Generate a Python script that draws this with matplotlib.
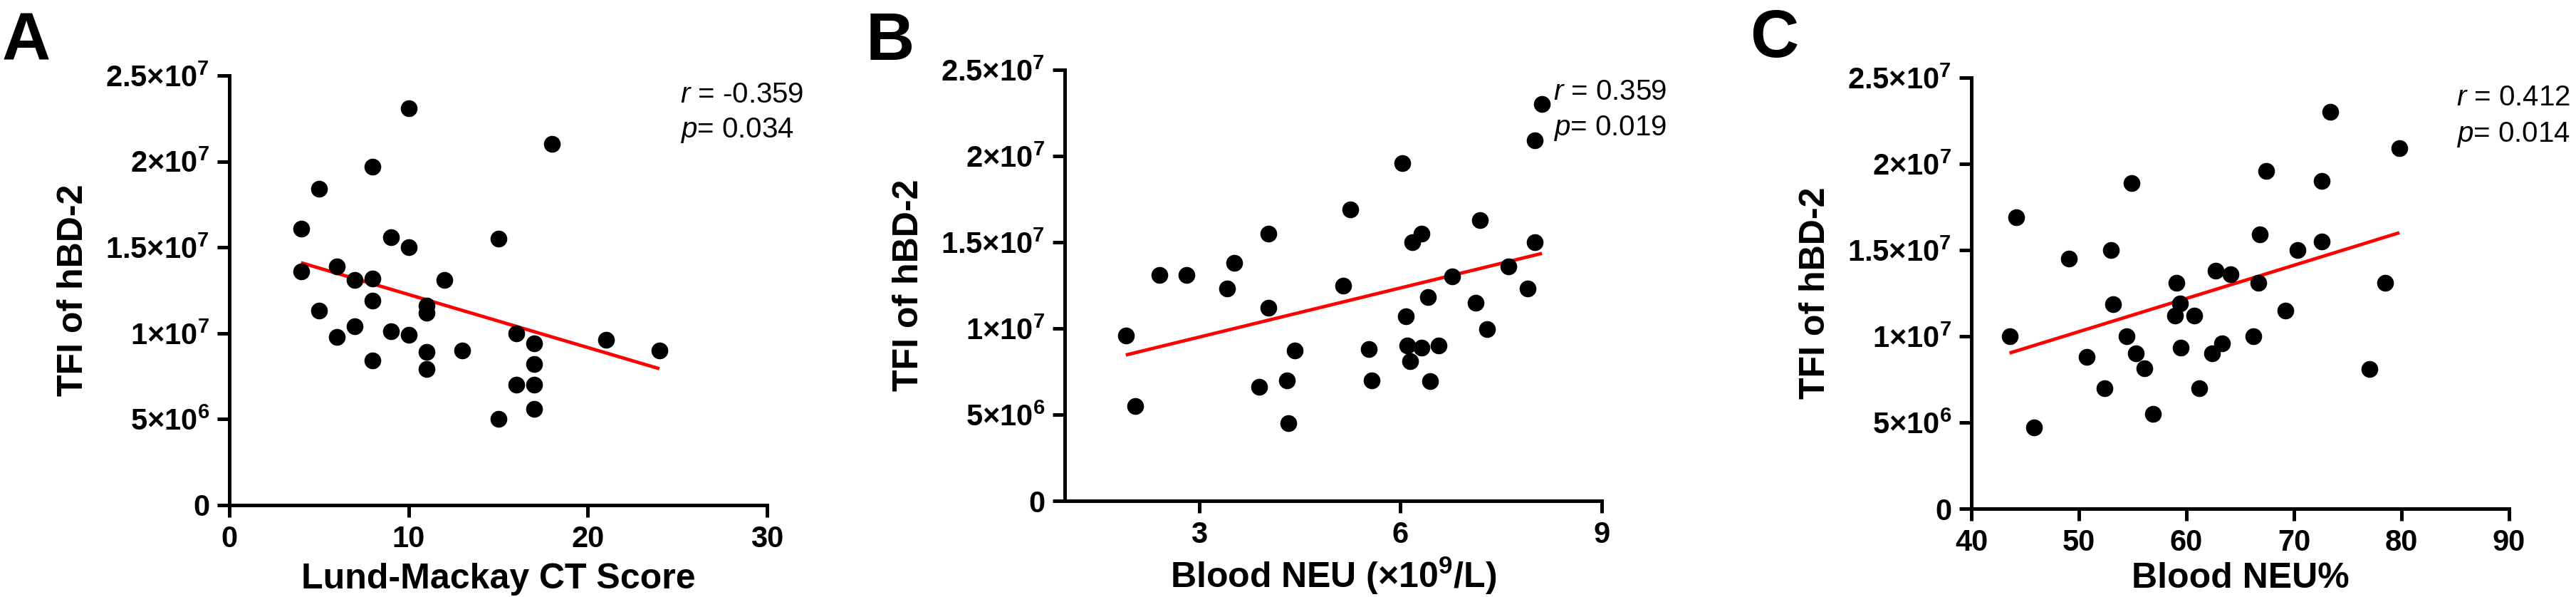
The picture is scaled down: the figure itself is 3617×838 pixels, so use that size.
import matplotlib
matplotlib.use("Agg")
import matplotlib.pyplot as plt
import numpy as np

plt.rcParams['font.family'] = ['Liberation Sans', 'DejaVu Sans']
plt.rcParams['mathtext.fontset'] = 'custom'
plt.rcParams['mathtext.rm'] = 'Liberation Sans'
plt.rcParams['mathtext.bf'] = 'Liberation Sans:bold'
plt.rcParams['mathtext.it'] = 'Liberation Sans:italic'

# ---- data (TFI values in units of 1e6) ----
ct_score = [4, 4, 5, 5, 6, 6, 7, 7, 8, 8, 8, 8, 9, 9, 10, 10, 10, 11, 11, 11, 11,
            12, 13, 15, 15, 16, 16, 17, 17, 17, 17, 18, 21, 24]
tfi_a = [16.1, 13.6, 18.4, 11.3, 13.9, 9.8, 13.1, 10.4, 19.7, 13.2, 11.9, 8.4, 15.6, 10.1,
         23.1, 15.0, 9.9, 11.6, 11.2, 8.9, 7.9, 13.1, 9.0, 15.5, 5.0, 10.0, 7.0, 9.4, 8.2,
         7.0, 5.6, 21.0, 9.6, 9.0]

neu_count = [1.91, 2.05, 2.41, 2.81, 3.42, 3.52, 3.90, 4.03, 4.03, 4.31, 4.33, 4.43, 5.15,
             5.25, 5.53, 5.57, 6.03, 6.08, 6.10, 6.15, 6.18, 6.32, 6.32, 6.41, 6.44, 6.57,
             6.77, 7.12, 7.19, 7.29, 7.61, 7.90, 8.00, 8.00, 8.11]
tfi_b = [9.6, 5.5, 13.1, 13.1, 12.3, 13.8, 6.6, 15.5, 11.2, 7.0, 4.5, 8.7, 12.5, 16.9, 8.8,
         7.0, 19.6, 10.7, 9.0, 8.1, 15.0, 15.5, 8.9, 11.8, 6.95, 9.0, 13.0, 11.5, 16.3, 9.95,
         13.6, 12.3, 20.9, 15.0, 23.0]

neu_pct = [43.55, 44.2, 45.86, 49.1, 50.7, 52.4, 53.0, 53.2, 54.45, 54.9, 55.3, 56.1, 56.9,
           58.97, 59.1, 59.4, 59.5, 60.7, 61.2, 62.4, 62.7, 63.3, 64.1, 66.2, 66.7, 66.8,
           67.4, 69.2, 70.3, 72.6, 72.6, 73.4, 77.0, 78.5, 79.8]
tfi_c = [10.0, 16.9, 4.7, 14.5, 8.8, 7.0, 15.0, 11.85, 10.0, 18.9, 9.0, 8.15, 5.5, 11.2,
         13.1, 11.9, 9.35, 11.2, 7.0, 9.0, 13.8, 9.6, 13.6, 10.0, 13.1, 15.9, 19.6, 11.5,
         15.0, 19.0, 15.5, 23.0, 8.1, 13.1, 20.9]

y_ticks = [0, 5e6, 1e7, 1.5e7, 2e7, 2.5e7]
y_ticklabels = ['0', r'$\mathbf{5{\times}10^{6}}$', r'$\mathbf{1{\times}10^{7}}$',
                r'$\mathbf{1.5{\times}10^{7}}$', r'$\mathbf{2{\times}10^{7}}$',
                r'$\mathbf{2.5{\times}10^{7}}$']
y_label = 'TFI of hBD-2'

r_values = ['-0.359', '0.359', '0.412']
p_values = ['0.034', '0.019', '0.014']

W, H = 3617, 838
fig = plt.figure(figsize=(W / 100, H / 100), dpi=100)


def px(x, y):
    # pixel (from top-left) -> figure fraction
    return x / W, 1 - y / H


def panel(left, top, right, bottom, x, y, xlim, xticks, xlabel, xlabel_y):
    ax = fig.add_axes([left / W, 1 - bottom / H, (right - left) / W, (bottom - top) / H])
    y = np.array(y) * 1e6
    x = np.array(x)
    k, b = np.polyfit(x, y, 1)
    xs = np.array([x.min(), x.max()])
    ax.plot(xs, k * xs + b, color='#ff0000', lw=3.4, zorder=2, solid_capstyle='butt')
    ax.plot(x, y, 'o', color='black', ms=17, mec='none', zorder=3, clip_on=False)
    ax.set_xlim(*xlim)
    ax.set_ylim(0, 2.5e7)
    ax.set_xticks(xticks)
    ax.set_xticklabels([str(t) for t in xticks], fontweight='bold')
    ax.set_yticks(y_ticks)
    ax.set_yticklabels(y_ticklabels, fontweight='bold')
    for s in ['top', 'right']:
        ax.spines[s].set_visible(False)
    for s in ['left', 'bottom']:
        ax.spines[s].set_linewidth(3.6)
    ax.tick_params(direction='out', length=12, width=3.6, labelsize=30, pad=8)
    ax.set_xlabel(xlabel, fontsize=36, fontweight='bold', va='baseline')
    ax.xaxis.set_label_coords(0.5, xlabel_y)
    ax.set_ylabel(y_label, fontsize=36, fontweight='bold', va='center')
    ax.yaxis.set_label_coords(-0.29, 0.5)
    return ax


panel(322, 106, 1077, 709, ct_score, tfi_a, (0, 30), [0, 10, 20, 30],
      'Lund-Mackay CT Score', -0.194)
panel(1495, 98, 2249, 703, neu_count, tfi_b, (1, 9), [3, 6, 9],
      r'Blood NEU (×10$^{\mathbf{9}}$/L)', -0.2017)
panel(2768, 109, 3523, 714, neu_pct, tfi_c, (40, 90), [40, 50, 60, 70, 80, 90],
      'Blood NEU%', -0.1835)

# correlation annotations
stat_pos = [(955, 144, 193), (2181, 140, 190), (3449, 148, 199)]
for (sx, ry, py), rv, pv in zip(stat_pos, r_values, p_values):
    fig.text(*px(sx, ry), r'$\it{r}$ = ' + rv, fontsize=29, va='baseline', ha='left')
    fig.text(*px(sx, py), r'$\it{p}$= ' + pv, fontsize=29, va='baseline', ha='left')

# panel letters
for letter, lx, ly in [('A', 3, 85), ('B', 1216, 84), ('C', 2457, 80)]:
    fig.text(*px(lx, ly), letter, fontsize=68, fontweight='bold', va='baseline', ha='left')

fig.savefig('out.png', dpi=100)
